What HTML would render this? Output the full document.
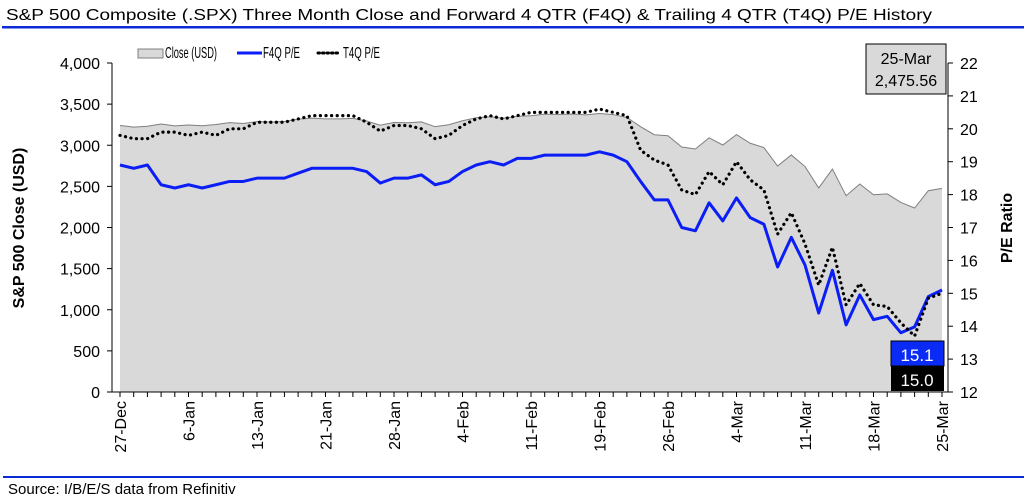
<!DOCTYPE html>
<html><head><meta charset="utf-8"><style>
body{margin:0;background:#fff}
svg{display:block;font-family:"Liberation Sans",Arial,sans-serif}
</style></head><body>
<svg id="chart" width="1024" height="502" viewBox="0 0 1024 502">
<text x="6" y="20" font-size="16" textLength="926" lengthAdjust="spacingAndGlyphs">S&amp;P 500 Composite (.SPX) Three Month Close and Forward 4 QTR (F4Q) &amp; Trailing 4 QTR (T4Q) P/E History</text>
<rect x="2" y="26" width="1022" height="2.5" fill="#0a2bd6"/>
<g>
<rect x="138" y="49" width="25" height="9" fill="#d9d9d9" stroke="#808080" stroke-width="1"/>
<text x="165" y="58" font-size="16" textLength="52" lengthAdjust="spacingAndGlyphs">Close (USD)</text>
<line x1="237" y1="53" x2="262" y2="53" stroke="#0a1ef5" stroke-width="3"/>
<text x="263" y="58" font-size="16" textLength="37" lengthAdjust="spacingAndGlyphs">F4Q P/E</text>
<line x1="318" y1="53" x2="340" y2="53" stroke="#000" stroke-width="3" stroke-dasharray="1.5 3" stroke-linecap="round"/>
<text x="343" y="58" font-size="16" textLength="37" lengthAdjust="spacingAndGlyphs">T4Q P/E</text>
</g>
<g id="plot"></g>
<g>
<rect x="866" y="44" width="80" height="50" fill="#d9d9d9" stroke="#000" stroke-width="1"/>
<text x="906" y="64" font-size="16" text-anchor="middle">25-Mar</text>
<text x="906" y="86" font-size="16" text-anchor="middle">2,475.56</text>
</g>
<g>
<rect x="891" y="341" width="53" height="25" fill="#0a2bf5" stroke="#000" stroke-width="1"/>
<text x="917" y="361" font-size="17" fill="#fff" text-anchor="middle">15.1</text>
</g>
<g>
<rect x="891" y="366" width="53" height="25" fill="#000"/>
<text x="917" y="386" font-size="17" fill="#fff" text-anchor="middle">15.0</text>
</g>
<text transform="translate(24,228) rotate(-90)" font-size="16" font-weight="bold" text-anchor="middle">S&amp;P 500 Close (USD)</text>
<text transform="translate(1012,228) rotate(-90)" font-size="16" font-weight="bold" text-anchor="middle">P/E Ratio</text>
<rect x="3" y="476" width="1021" height="2" fill="#0a2bd6"/>
<text x="8" y="494" font-size="15">Source: I/B/E/S data from Refinitiv</text>
</svg>
<script>
const closeVals=[3240,3221,3231,3258,3235,3246,3237,3253,3275,3265,3288,3283,3289,3317,3330,3321,3321,3326,3295,3244,3276,3273,3284,3226,3249,3298,3334,3346,3328,3352,3358,3379,3374,3380,3370,3386,3373,3338,3226,3128,3116,2979,2954,3090,3003,3130,3024,2972,2747,2882,2741,2481,2711,2386,2529,2398,2409,2305,2237,2447,2476];
const f4qVals=[18.9,18.8,18.9,18.3,18.2,18.3,18.2,18.3,18.4,18.4,18.5,18.5,18.5,18.65,18.8,18.8,18.8,18.8,18.7,18.35,18.5,18.5,18.6,18.3,18.4,18.7,18.9,19.0,18.9,19.1,19.1,19.2,19.2,19.2,19.2,19.3,19.2,19.0,18.4,17.84,17.84,17.0,16.9,17.75,17.2,17.9,17.3,17.1,15.8,16.7,15.86,14.4,15.7,14.04,14.95,14.2,14.3,13.8,13.98,14.9,15.1];
const t4qVals=[19.8,19.7,19.7,19.9,19.9,19.8,19.9,19.8,20.0,20.0,20.2,20.2,20.2,20.3,20.4,20.4,20.4,20.4,20.2,19.93,20.1,20.1,20.0,19.7,19.8,20.1,20.3,20.4,20.3,20.4,20.5,20.5,20.5,20.5,20.5,20.6,20.5,20.4,19.35,19.05,18.9,18.14,18.0,18.7,18.3,19.0,18.45,18.14,16.8,17.45,16.5,15.25,16.4,14.65,15.3,14.65,14.6,14.1,13.7,14.85,15.0];
const dateLabels=["27-Dec","6-Jan","13-Jan","21-Jan","28-Jan","4-Feb","11-Feb","19-Feb","26-Feb","4-Mar","11-Mar","18-Mar","25-Mar"];
const leftTicks=[0,500,1000,1500,2000,2500,3000,3500,4000];
const rightTicks=[12,13,14,15,16,17,18,19,20,21,22];

const NS="http://www.w3.org/2000/svg";
const g=document.getElementById('plot');
const X0=120,X1=942,YT=63,YB=392,LX=112,RX=948;
const n=closeVals.length;
const x=i=>X0+(X1-X0)*i/(n-1);
const yL=v=>YB-(v-0)/(4000-0)*(YB-YT);
const yR=v=>YB-(v-12)/(22-12)*(YB-YT);
function mk(t,a){const e=document.createElementNS(NS,t);for(const k in a)e.setAttribute(k,a[k]);g.appendChild(e);return e;}

let d=`M${x(0)},${YB}`;closeVals.forEach((v,i)=>d+=`L${x(i)},${yL(v)}`);d+=`L${x(n-1)},${YB}Z`;
const area=mk('path',{d,fill:'#d9d9d9'});


const cl=mk('polyline',{points:closeVals.map((v,i)=>x(i)+','+yL(v)).join(' '),fill:'none',stroke:'#7f7f7f','stroke-width':1});


const f=mk('polyline',{points:f4qVals.map((v,i)=>x(i)+','+yR(v)).join(' '),fill:'none',stroke:'#0a1ef5','stroke-width':3,'stroke-linejoin':'round'});


const t=mk('polyline',{points:t4qVals.map((v,i)=>x(i)+','+yR(v)).join(' '),fill:'none',stroke:'#000','stroke-width':3.2,'stroke-dasharray':'0.1 5.5','stroke-linecap':'round'});



mk('line',{x1:LX,y1:YT,x2:LX,y2:YB,stroke:'#000'});
mk('line',{x1:RX,y1:YT,x2:RX,y2:YB,stroke:'#000'});
mk('line',{x1:LX-5,y1:YB,x2:RX,y2:YB,stroke:'#000'});
leftTicks.forEach(v=>{
  mk('line',{x1:LX-5,y1:yL(v),x2:LX,y2:yL(v),stroke:'#000'});
  const tx=mk('text',{x:LX-12,y:yL(v)+6,'font-size':16,'text-anchor':'end'});tx.textContent=v.toLocaleString('en-US');
  
  
});
rightTicks.forEach(v=>{
  mk('line',{x1:RX,y1:yR(v),x2:RX+5,y2:yR(v),stroke:'#000'});
  const tx=mk('text',{x:RX+12,y:yR(v)+6,'font-size':16});tx.textContent=v;
  
  
});
for(let i=0;i<n;i++)mk('line',{x1:x(i),y1:YB,x2:x(i),y2:YB+5,stroke:'#000'});
dateLabels.forEach((s,k)=>{
  const xi=x(k*5);
  const tx=mk('text',{transform:`translate(${xi+6},401) rotate(-90)`,'font-size':16,'text-anchor':'end'});tx.textContent=s;
  
  
});
</script>
</body></html>
